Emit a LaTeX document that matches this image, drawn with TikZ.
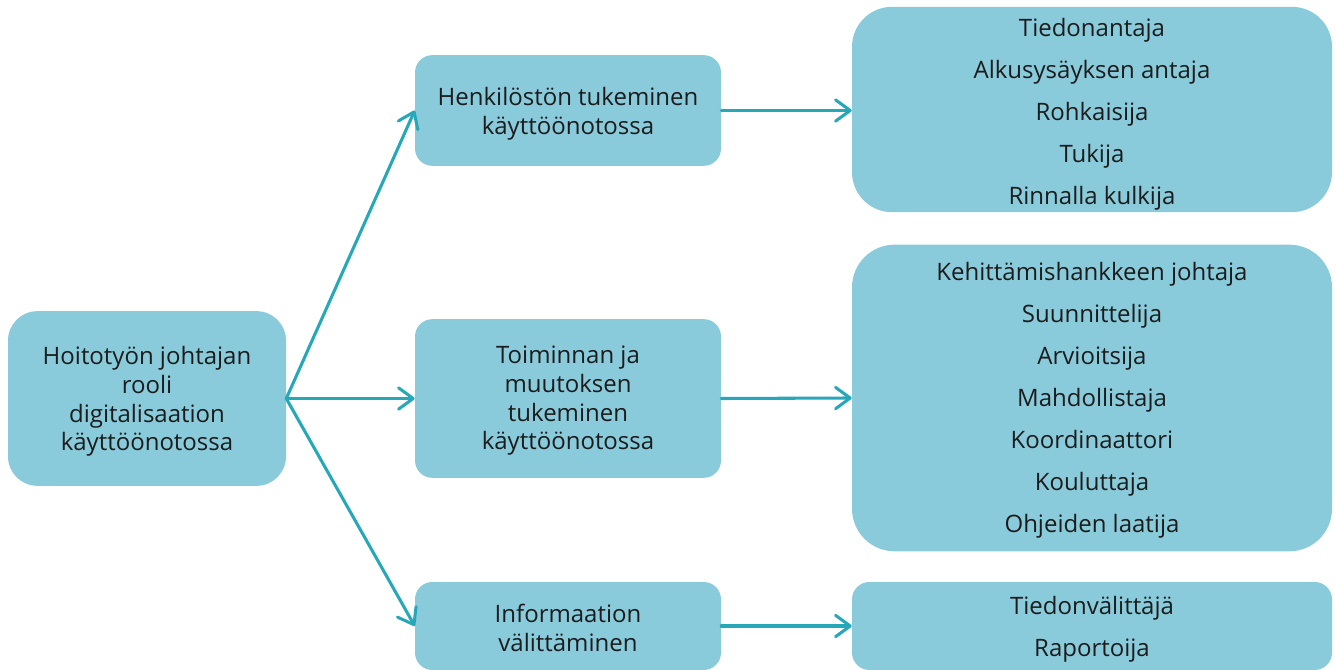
\documentclass[tikz,border=0pt]{standalone}
\usepackage{fontspec}
\setmainfont{Open Sans}
\usetikzlibrary{arrows.meta}
\definecolor{boxfill}{HTML}{89CBDB}
\definecolor{arrowcol}{HTML}{26A8B9}
\definecolor{txt}{HTML}{1C1C1C}
\tikzset{
  card/.style={fill=boxfill, draw=none, inner sep=0pt},
  cardtext/.style={text=txt, align=center, inner sep=0pt,
    font=\fontsize{18}{21.5}\selectfont},
  listtext/.style={cardtext, font=\fontsize{18}{31.5}\selectfont},
  link/.style={draw=arrowcol, line width=2.3pt, line cap=round,
    -{Straight Barb[length=11pt, width=16pt, line cap=round, line join=round]}},
}
\begin{document}
\begin{tikzpicture}[x=0.75pt, y=-0.75pt]
\useasboundingbox (0,0) rectangle (1336,670);

% root
\node[card, minimum width=208.5pt, minimum height=131pt, rounded corners=22pt] (root) at (147,398.5) {};
\node[cardtext] (root-t) at ([yshift=-2.3pt]root.center)
  {Hoitotyön johtajan\\rooli\\digitalisaation\\käyttöönotossa};

% middle column
\node[card, minimum width=229.5pt, minimum height=83pt, rounded corners=13pt] (mtop) at (568,110.5) {};
\node[cardtext] (mtop-t) at ([yshift=-2.3pt]mtop.center)
  {Henkilöstön tukeminen\\käyttöönotossa};
\node[card, minimum width=229.5pt, minimum height=119pt, rounded corners=13pt] (mmid) at (568,398.5) {};
\node[cardtext] (mmid-t) at ([yshift=-1.8pt]mmid.center)
  {Toiminnan ja\\muutoksen\\tukeminen\\käyttöönotossa};
\node[card, minimum width=229.5pt, minimum height=66pt, rounded corners=13pt] (mbot) at (568,626) {};
\node[cardtext] (mbot-t) at ([yshift=-1.5pt]mbot.center)
  {Informaation\\välittäminen};

% right column
\node[card, minimum width=360pt, minimum height=154pt, rounded corners=30pt] (rtop) at (1092,109.5) {};
\node[listtext] (rtop-t) at ([yshift=-3.6pt]rtop.center)
  {Tiedonantaja\\Alkusysäyksen antaja\\Rohkaisija\\Tukija\\Rinnalla kulkija};
\node[card, minimum width=360pt, minimum height=230pt, rounded corners=32pt] (rmid) at (1092,398) {};
\node[listtext] (rmid-t) at ([yshift=-1.6pt]rmid.center)
  {Kehittämishankkeen johtaja\\Suunnittelija\\Arvioitsija\\Mahdollistaja\\Koordinaattori\\Kouluttaja\\Ohjeiden laatija};
\node[card, minimum width=360pt, minimum height=66pt, rounded corners=13pt] (rbot) at (1092,626) {};
\node[listtext] (rbot-t) at ([yshift=-2.3pt]rbot.center)
  {Tiedonvälittäjä\\Raportoija};

% connectors
\draw[link] (root.east) -- (mtop.west);
\draw[link] (root.east) -- (mmid.west);
\draw[link] (root.east) -- (mbot.west);
\draw[link] (mtop.east) -- (rtop.west |- mtop.east);
\draw[link] (mmid.east) -- (rmid.west);
\draw[link] (mbot.east) -- (rbot.west);
\end{tikzpicture}
\end{document}
